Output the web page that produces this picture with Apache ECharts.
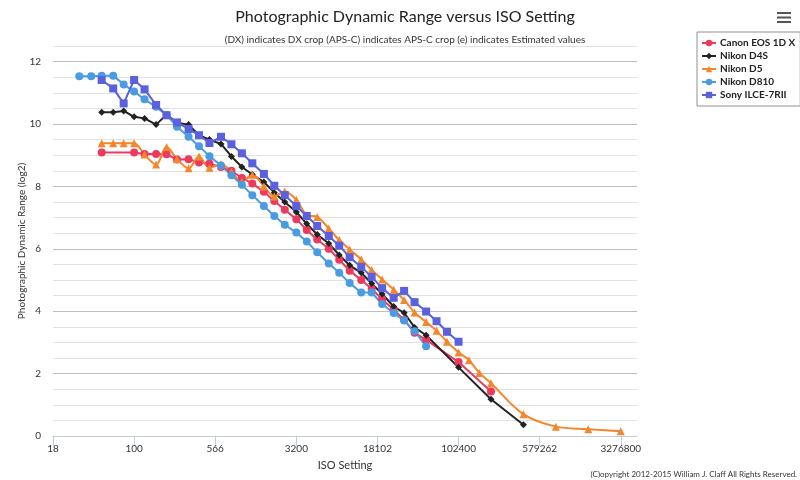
<!DOCTYPE html>
<html>
<head>
<meta charset="utf-8">
<title>Photographic Dynamic Range versus ISO Setting</title>
<script src="https://cdn.jsdelivr.net/npm/echarts@6/dist/echarts.min.js"></script>
<style>
  html, body { margin: 0; padding: 0; background: #fff; }
  #chart { width: 800px; height: 480px; }
</style>
</head>
<body>
<div id="chart"></div>
<script>
// x axis labels, one every 2.5 stops starting at ISO 100 / 2^2.5
const tickLabels = ['18', '100', '566', '3200', '18102', '102400', '579262', '3276800'];

const isoCanon = [50, 100, 125, 160, 200, 250, 320, 400, 500, 640, 800, 1000, 1250, 1600, 2000, 2500, 3200, 4000, 5000, 6400, 8000, 10000, 12800, 16000, 20000, 25600, 32000, 40000, 51200, 102400, 204800];
const drCanon = [9.09, 9.09, 9.04, 9.04, 9.03, 8.86, 8.87, 8.77, 8.73, 8.62, 8.5, 8.27, 8.09, 7.83, 7.53, 7.25, 6.95, 6.6, 6.3, 6.0, 5.65, 5.3, 5.0, 4.72, 4.38, 4.05, 3.72, 3.31, 3.08, 2.37, 1.43];

const isoD4S = [50, 64, 80, 100, 125, 160, 200, 250, 320, 400, 500, 640, 800, 1000, 1250, 1600, 2000, 2500, 3200, 4000, 5000, 6400, 8000, 10000, 12800, 16000, 20000, 25600, 32000, 40000, 51200, 102400, 204800, 409600];
const drD4S = [10.38, 10.38, 10.42, 10.23, 10.18, 9.98, 10.3, 10.04, 9.98, 9.64, 9.5, 9.36, 8.96, 8.62, 8.38, 8.14, 7.8, 7.5, 7.18, 6.8, 6.46, 6.17, 5.8, 5.47, 5.23, 4.89, 4.55, 4.15, 3.95, 3.48, 3.23, 2.2, 1.18, 0.36];

const isoD5 = [50, 64, 80, 100, 125, 160, 200, 250, 320, 400, 500, 640, 800, 1000, 1250, 1600, 2000, 2500, 3200, 4000, 5000, 6400, 8000, 10000, 12800, 16000, 20000, 25600, 32000, 40000, 51200, 64000, 80000, 102400, 128000, 160000, 204800, 409600, 819200, 1638400, 3276800];
const drD5 = [9.38, 9.38, 9.38, 9.38, 9.02, 8.7, 9.26, 8.88, 8.58, 8.96, 8.6, 8.71, 8.47, 8.15, 8.37, 8.0, 7.68, 7.84, 7.57, 7.08, 7.02, 6.65, 6.28, 5.98, 5.66, 5.32, 5.02, 4.69, 4.36, 3.96, 3.65, 3.37, 3.02, 2.68, 2.43, 2.02, 1.69, 0.7, 0.3, 0.22, 0.15];

const isoD810 = [31, 40, 50, 64, 80, 100, 125, 160, 200, 250, 320, 400, 500, 640, 800, 1000, 1250, 1600, 2000, 2500, 3200, 4000, 5000, 6400, 8000, 10000, 12800, 16000, 20000, 25600, 32000, 40000, 51200];
const drD810 = [11.53, 11.53, 11.55, 11.55, 11.27, 11.04, 10.79, 10.55, 10.29, 9.91, 9.59, 9.29, 8.97, 8.67, 8.36, 8.05, 7.72, 7.37, 7.05, 6.77, 6.52, 6.23, 5.89, 5.53, 5.23, 4.9, 4.6, 4.6, 4.23, 3.94, 3.7, 3.36, 2.88];

const isoSony = [50, 64, 80, 100, 125, 160, 200, 250, 320, 400, 500, 640, 800, 1000, 1250, 1600, 2000, 2500, 3200, 4000, 5000, 6400, 8000, 10000, 12800, 16000, 20000, 25600, 32000, 40000, 51200, 64000, 80000, 102400];
const drSony = [11.41, 11.14, 10.66, 11.41, 11.11, 10.61, 10.28, 10.05, 9.84, 9.64, 9.39, 9.59, 9.35, 9.06, 8.74, 8.4, 8.02, 7.72, 7.37, 7.05, 6.73, 6.41, 6.1, 5.73, 5.42, 5.1, 4.74, 4.43, 4.65, 4.29, 3.99, 3.68, 3.34, 3.02];

const font = 'Lato, "DejaVu Sans", sans-serif';
// axis runs in stops relative to ISO 100
const toPoints = (iso, dr) => iso.map((v, i) => [Math.log2(v / 100), dr[i]]);
const tickPos = tickLabels.map((t, i) => -2.5 + i * 2.5);

function lineSeries(name, iso, dr, color, symbol, size, smooth) {
  return {
    name: name,
    type: 'line',
    data: toPoints(iso, dr),
    symbol: symbol,
    symbolSize: size,
    smooth: smooth || false,
    showAllSymbol: true,
    lineStyle: { width: 2, color: color },
    itemStyle: { color: color }
  };
}

const myChart = echarts.init(document.getElementById('chart'));
let option = {
  animation: false,
  textStyle: { fontFamily: font },
  graphic: [
    {
      type: 'text', x: 405, y: 17,
      style: { text: 'Photographic Dynamic Range versus ISO Setting', align: 'center', verticalAlign: 'middle',
        fontSize: 16, fontFamily: font, fill: '#222' }
    },
    {
      type: 'text', x: 405, y: 40,
      style: { text: '(DX) indicates DX crop (APS-C) indicates APS-C crop (e) indicates Estimated values',
        align: 'center', verticalAlign: 'middle', fontSize: 10, fontFamily: font, fill: '#333' }
    },
    {
      type: 'text', right: 3, bottom: 2,
      style: { text: '(C)opyright 2012-2015 William J. Claff All Rights Reserved.', fontSize: 8, fontFamily: font, fill: '#333' }
    },
    // menu button
    { type: 'rect', shape: { x: 777, y: 12, width: 14, height: 2 }, style: { fill: '#555' } },
    { type: 'rect', shape: { x: 777, y: 16.5, width: 14, height: 2 }, style: { fill: '#555' } },
    { type: 'rect', shape: { x: 777, y: 21, width: 14, height: 2 }, style: { fill: '#555' } }
  ],
  legend: {
    orient: 'vertical',
    left: 697,
    top: 32,
    padding: [6, 5, 6, 4],
    itemGap: 3,
    itemWidth: 14,
    itemHeight: 8,
    borderColor: '#909090',
    borderWidth: 1,
    textStyle: { fontWeight: 'bold', fontSize: 10, color: '#222', fontFamily: font, padding: [0, 0, 0, -1] }
  },
  grid: {
    left: 53,
    right: 163,
    top: 46,
    bottom: 44
  },
  xAxis: {
    type: 'value',
    min: -2.5,
    max: 15.5,
    interval: 2.5,
    name: 'ISO Setting',
    nameLocation: 'middle',
    nameGap: 24,
    nameTextStyle: { fontSize: 11, color: '#333' },
    axisLine: { lineStyle: { color: '#c0cce0' } },
    axisTick: { length: 10, customValues: tickPos, lineStyle: { color: '#c0cce0' } },
    axisLabel: {
      customValues: tickPos,
      margin: 8,
      fontSize: 10,
      color: '#333',
      formatter: v => tickLabels[Math.round(v / 2.5) + 1]
    },
    splitLine: { show: false }
  },
  yAxis: {
    type: 'value',
    min: 0,
    max: 12.5,
    interval: 0.5,
    name: 'Photographic Dynamic Range (log2)',
    nameLocation: 'middle',
    nameGap: 26,
    nameMoveOverlap: false,
    nameTextStyle: { fontSize: 10, color: '#333' },
    axisLine: { show: false },
    axisTick: { show: false },
    axisLabel: {
      margin: 12,
      fontSize: 10,
      color: '#333',
      formatter: v => (v % 2 === 0 ? String(v) : '')
    },
    splitLine: { lineStyle: { width: 1, color: ['#bdbdbd', '#e2e2e2', '#e2e2e2', '#e2e2e2'] } }
  },
  series: [
    lineSeries('Canon EOS 1D X', isoCanon, drCanon, '#ec3a5f', 'circle', 8),
    lineSeries('Nikon D4S', isoD4S, drD4S, '#222222', 'diamond', 7),
    lineSeries('Nikon D5', isoD5, drD5, '#f5862c', 'triangle', 8, 0.35),
    lineSeries('Nikon D810', isoD810, drD810, '#4a9be2', 'circle', 8),
    lineSeries('Sony ILCE-7RII', isoSony, drSony, '#5a60de', 'rect', 8)
  ]
};
myChart.setOption(option);
</script>
</body>
</html>
